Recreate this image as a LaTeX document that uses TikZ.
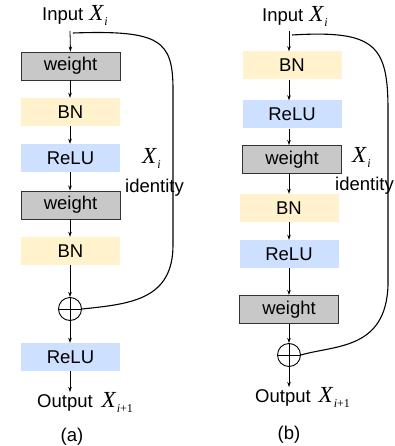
\documentclass[tikz,border=0pt]{standalone}
\usepackage{fontspec}
\setmainfont{Liberation Sans}
\newfontfamily\tms{Liberation Serif}
\usetikzlibrary{arrows.meta}
\definecolor{wgray}{RGB}{200,200,200}
\definecolor{bnyel}{RGB}{255,242,204}
\definecolor{rlblue}{RGB}{206,224,255}
\newcommand{\XX}[1]{{\tms\itshape\fontsize{23}{23}\selectfont X}\kern1pt\raisebox{-5pt}{\tms\fontsize{12}{12}\selectfont #1}}
\begin{document}
\begin{tikzpicture}[x=1pt,y=-1pt,
  every node/.style={font=\fontsize{18.5}{20}\selectfont, inner sep=0pt},
  blk/.style={minimum width=99pt, minimum height=28pt},
  wbox/.style={blk, fill=wgray, draw=black!80, line width=0.9pt},
  bnbox/.style={blk, fill=bnyel},
  rlbox/.style={blk, fill=rlblue},
  opl/.style={circle, draw, line width=0.9pt, minimum size=23pt,
    path picture={\draw[line width=0.9pt] (path picture bounding box.north)--(path picture bounding box.south)
      (path picture bounding box.west)--(path picture bounding box.east);}},
  arr/.style={-{Stealth[length=5pt,width=3.5pt]}, line width=0.8pt},
  skip/.style={line width=1.1pt}]
\useasboundingbox (0,0) rectangle (395,446);
% ---------- (a)
\node[anchor=base west] (inA) at (42,21) {Input\hspace{6pt}\XX{\itshape i}};
\coordinate (topA) at (70,31);
\coordinate (sa) at (73,33);
\node[wbox]  (wA1) at (70.5,66) {weight};
\node[bnbox] (bA1) at (70.5,112) {BN};
\node[rlbox] (rA1) at (70.5,158) {ReLU};
\node[wbox]  (wA2) at (70.5,205) {weight};
\node[bnbox] (bA2) at (70.5,251) {BN};
\node[opl]   (pA) at (70,309) {};
\node[rlbox] (rA3) at (70.5,357) {ReLU};
\node[anchor=base west] (outA) at (37,407) {Output\hspace{9pt}\XX{{\itshape i}+1}};
\coordinate (endA) at (70,392);
\node (labA) at (72,437) {(a)};
\node[anchor=base west] (xiA) at (142,164) {\XX{\itshape i}};
\node[anchor=base west] (idA) at (125,193) {identity};
\draw[arr] (topA) -- (wA1.north);
\draw[arr] (wA1.south -| topA) -- (bA1.north -| topA);
\draw[arr] (bA1.south -| topA) -- (rA1.north -| topA);
\draw[arr] (rA1.south -| topA) -- (wA2.north -| topA);
\draw[arr] (wA2.south -| topA) -- (bA2.north -| topA);
\draw[arr] (bA2.south -| topA) -- (pA.north);
\draw[arr] (pA.south) -- (rA3.north -| topA);
\draw[arr] (rA3.south -| topA) -- (endA);
\draw[skip] (sa) .. controls (160,30) and (173,40) .. (173,90) -- (173,245)
  .. controls (173,300) and (130,304) .. (pA.east);
% ---------- (b)
\node[anchor=base west] (inB) at (262,22) {Input\hspace{6pt}\XX{\itshape i}};
\coordinate (topB) at (289,31);
\coordinate (sb) at (292,35);
\node[bnbox] (bB1) at (292,65.5) {BN};
\node[rlbox] (rB1) at (292,114.5) {ReLU};
\node[wbox]  (wB1) at (292,159.5) {weight};
\node[bnbox] (bB2) at (289,208) {BN};
\node[rlbox] (rB2) at (289,254) {ReLU};
\node[wbox]  (wB2) at (289,309.5) {weight};
\node[opl]   (pB) at (289,355) {};
\node[anchor=base west] (outB) at (255,402) {Output\hspace{8pt}\XX{{\itshape i}+1}};
\coordinate (endB) at (289,387);
\node (labB) at (289,435) {(b)};
\node[anchor=base west] (xiB) at (352,163) {\XX{\itshape i}};
\node[anchor=base west] (idB) at (335,190) {identity};
\draw[arr] (topB) -- (bB1.north -| topB);
\draw[arr] (bB1.south -| topB) -- (rB1.north -| topB);
\draw[arr] (rB1.south -| topB) -- (wB1.north -| topB);
\draw[arr] (wB1.south -| topB) -- (bB2.north -| topB);
\draw[arr] (bB2.south -| topB) -- (rB2.north -| topB);
\draw[arr] (rB2.south -| topB) -- (wB2.north -| topB);
\draw[arr] (wB2.south -| topB) -- (pB.north);
\draw[arr] (pB.south) -- (endB);
\draw[skip] (sb) .. controls (375,30) and (388,45) .. (388,110) -- (388,285)
  .. controls (386,350) and (335,345) .. (pB.east);
\end{tikzpicture}
\end{document}
